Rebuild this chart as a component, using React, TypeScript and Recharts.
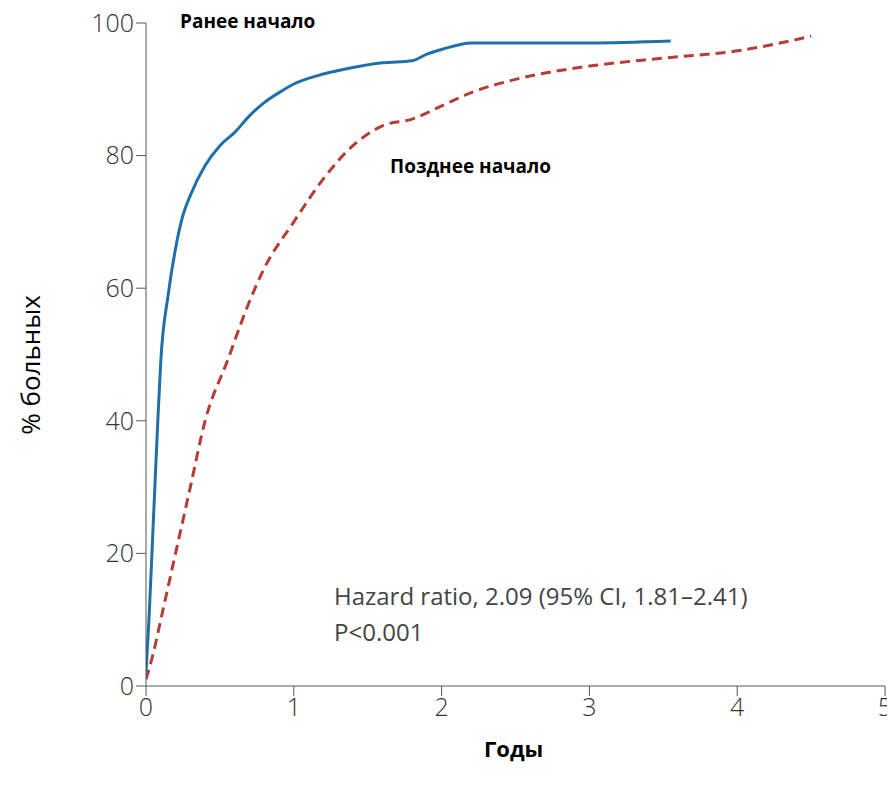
import { LineChart, Line, XAxis, YAxis } from 'recharts'

const xTicks = [0, 1, 2, 3, 4, 5]
const yTicks = [0, 20, 40, 60, 80, 100]

const earlyX = [0, 0.02, 0.05, 0.08, 0.1, 0.15, 0.2, 0.25, 0.3, 0.4, 0.5, 0.6, 0.7, 0.8, 0.9, 1, 1.2, 1.4, 1.6, 1.8, 1.9, 2, 2.2, 2.5, 3, 3.55]
const earlyY = [2, 10, 25, 40, 49, 59, 66, 71, 74, 78.5, 81.5, 83.5, 86, 88, 89.5, 90.8, 92.3, 93.3, 94, 94.3, 95.3, 96, 97, 97, 97, 97.3]

const lateX = [0, 0.05, 0.1, 0.2, 0.3, 0.4, 0.55, 0.7, 0.8, 1, 1.2, 1.4, 1.6, 1.8, 2, 2.2, 2.5, 3, 3.5, 4, 4.5]
const lateY = [1, 5, 10, 20, 30, 40, 49, 58, 63, 70, 76.5, 81.5, 84.5, 85.5, 87.5, 89.5, 91.5, 93.5, 94.7, 95.8, 98]

const early = earlyX.map((x, i) => ({ x, y: earlyY[i] }))
const late = lateX.map((x, i) => ({ x, y: lateY[i] }))

const tick = { fill: '#333', fontSize: 25, fontFamily: 'Open Sans', fontWeight: 300 }

export default function App() {
  return (
    <div style={{ position: 'relative', width: 895, height: 791, margin: -8, background: '#fff' }}>
      <LineChart width={895} height={791} margin={{ top: 23, right: 10, left: 0, bottom: 75 }} style={{ overflow: 'visible' }}>
        <XAxis type="number" dataKey="x" domain={[0, 5]} ticks={xTicks} tick={tick}
          stroke="#555" tickSize={10} allowDataOverflow />
        <YAxis type="number" dataKey="y" domain={[0, 100]} ticks={yTicks} tick={tick}
          stroke="#555" width={146} tickSize={10} />
        <Line data={late} dataKey="y" type="monotone" stroke="#b63c34" strokeWidth={3}
          strokeDasharray="10 6" dot={false} isAnimationActive={false} />
        <Line data={early} dataKey="y" type="monotone" stroke="#1f6fa8" strokeWidth={3}
          dot={false} isAnimationActive={false} />
      </LineChart>
      <div style={{ position: 'absolute', left: 180, top: 8, fontFamily: 'Open Sans', fontWeight: 700, fontSize: 19 }}>Ранее начало</div>
      <div style={{ position: 'absolute', left: 390, top: 153, fontFamily: 'Open Sans', fontWeight: 700, fontSize: 19 }}>Позднее начало</div>
      <div style={{ position: 'absolute', left: 334, top: 578, fontFamily: 'Open Sans', fontSize: 24, color: '#444', lineHeight: '36px' }}>
        Hazard ratio, 2.09 (95% CI, 1.81–2.41)<br />P&lt;0.001
      </div>
      <div style={{ position: 'absolute', left: 484, top: 733, fontFamily: 'Open Sans', fontWeight: 700, fontSize: 22 }}>Годы</div>
      <div style={{ position: 'absolute', left: 30, top: 365, transform: 'translate(-50%, -50%) rotate(-90deg)', fontFamily: 'Open Sans', fontSize: 26, whiteSpace: 'nowrap' }}>% больных</div>
    </div>
  )
}
